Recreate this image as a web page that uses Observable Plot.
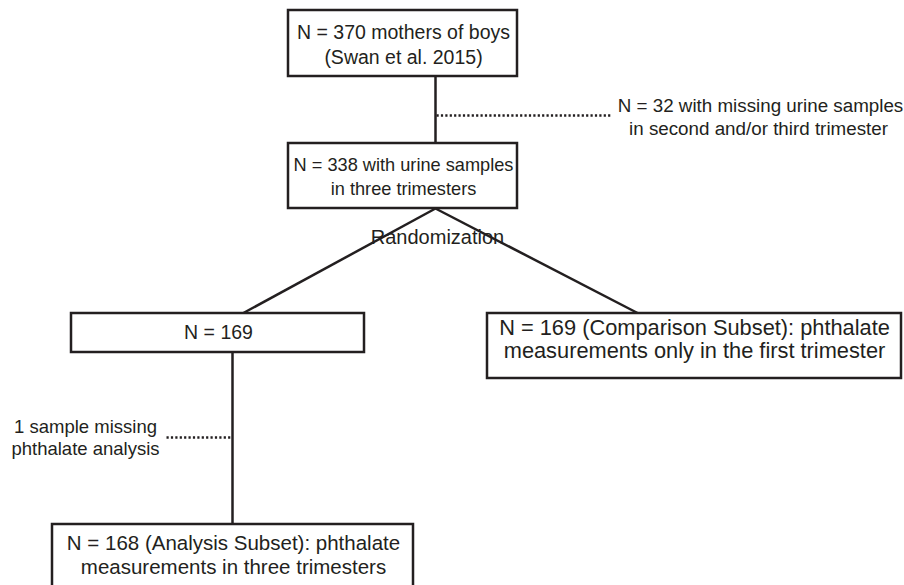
<!DOCTYPE html>
<html>
<head>
<meta charset="utf-8">
<script src="https://cdn.jsdelivr.net/npm/d3@7"></script>
<script src="https://cdn.jsdelivr.net/npm/@observablehq/plot@0.6"></script>
<style>
  html, body { margin: 0; padding: 0; background: #fff; }
  #chart svg { display: block; }
</style>
</head>
<body>
<div id="chart"></div>
<script>
// Flowchart nodes (layout in diagram units: x to the right, y downward)
const boxIds   = ["mothers", "urine", "rand169", "comparison", "analysis"];
const boxLeft  = [288, 288, 71, 487, 52];
const boxRight = [517, 517, 364, 901, 413];
const boxTop   = [10, 143, 313, 313, 524];
const boxBottom= [76, 208, 352, 378, 610];

// Text lines inside / beside boxes
const labelText = [
  "N = 370 mothers of boys", "(Swan et al. 2015)",
  "N = 338 with urine samples", "in three trimesters",
  "Randomization",
  "N = 169",
  "N = 169 (Comparison Subset): phthalate", "measurements only in the first trimester",
  "1 sample missing", "phthalate analysis",
  "N = 168 (Analysis Subset): phthalate", "measurements in three trimesters",
  "N = 32 with missing urine samples", "in second and/or third trimester"
];
const labelX = [403, 403, 403, 403, 437, 218, 694, 694, 85, 85, 233, 233, 760, 758];
const labelY = [32, 57, 165, 189, 237, 332, 328, 351, 427, 449, 543, 567, 105, 128];
const labelSize = [19.5, 19.5, 18.2, 18.2, 20, 19.5, 21.8, 21.8, 18.5, 18.5, 20.5, 20.5, 18.8, 18.8];

// Solid connectors
const linkX1 = [435, 435, 435, 232];
const linkY1 = [76, 208, 208, 352];
const linkX2 = [435, 242, 638, 232];
const linkY2 = [143, 313, 313, 524];

// Dotted exclusion connectors
const dotX1 = [436, 166];
const dotY1 = [115, 437];
const dotX2 = [612, 231];
const dotY2 = [115, 437];

const boxes = boxIds.map((id, i) => ({id, x1: boxLeft[i], x2: boxRight[i], y1: boxTop[i], y2: boxBottom[i]}));
const labels = labelText.map((t, i) => ({t, x: labelX[i], y: labelY[i], s: labelSize[i]}));
const links = linkX1.map((_, i) => ({x1: linkX1[i], y1: linkY1[i], x2: linkX2[i], y2: linkY2[i]}));
const dots = dotX1.map((_, i) => ({x1: dotX1[i], y1: dotY1[i], x2: dotX2[i], y2: dotY2[i]}));

const sizes = [...new Set(labelSize)];

const chart = Plot.plot({
  width: 904,
  height: 585,
  margin: 0,
  style: {fontFamily: "'Liberation Sans', Arial, Helvetica, sans-serif", background: "#fff"},
  x: {domain: [0, 904], range: [0, 904], axis: null},
  y: {domain: [0, 585], range: [0, 585], axis: null},
  marks: [
    Plot.link(links, {x1: "x1", y1: "y1", x2: "x2", y2: "y2", stroke: "#231f20", strokeWidth: 2.5}),
    Plot.link(dots, {x1: "x1", y1: "y1", x2: "x2", y2: "y2", stroke: "#231f20", strokeWidth: 2.6, strokeDasharray: "2.2,2.2"}),
    Plot.rect(boxes, {x1: "x1", x2: "x2", y1: "y1", y2: "y2", fill: "white", stroke: "#231f20", strokeWidth: 2.5}),
    ...sizes.map(s => Plot.text(labels.filter(d => d.s === s), {x: "x", y: "y", text: "t", fontSize: s, fill: "#231f20", textAnchor: "middle"}))
  ]
});
document.getElementById("chart").appendChild(chart);
</script>
</body>
</html>
